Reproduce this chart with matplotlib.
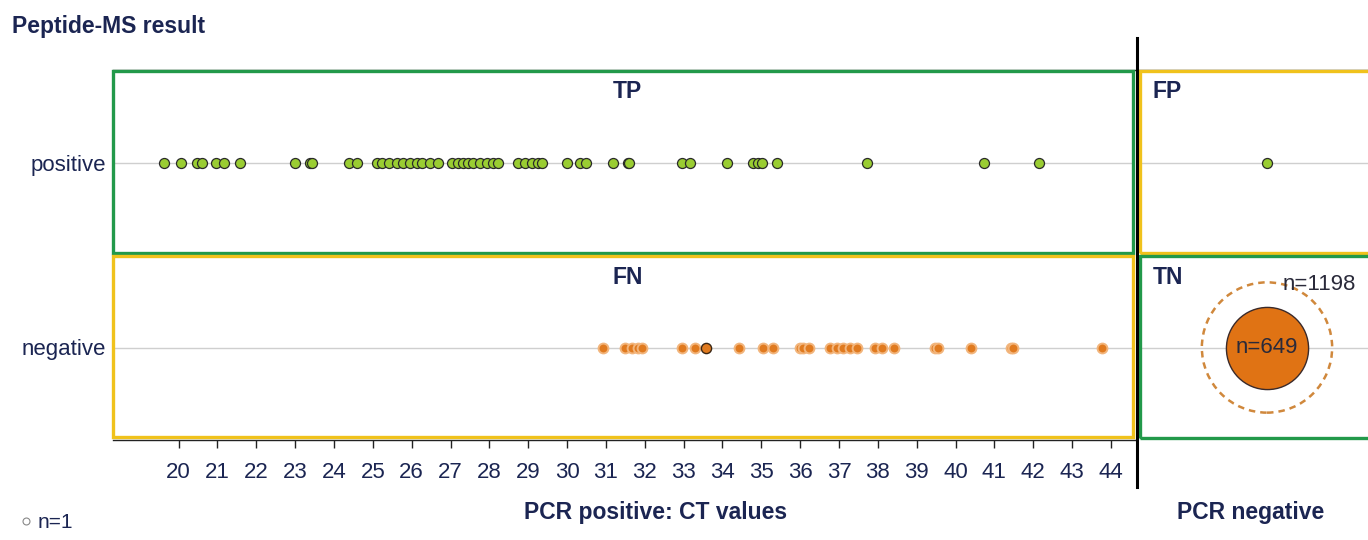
import numpy as np
import matplotlib
matplotlib.use("Agg")
import matplotlib.pyplot as plt
from matplotlib.patches import Rectangle
from matplotlib.lines import Line2D

plt.rcParams['font.family'] = ['Liberation Sans', 'DejaVu Sans']

# ---------------- data ----------------
rows = ["negative", "positive"]          # y categories
ct_ticks = list(range(20, 45))           # x tick values
tp_ct = [19.63, 20.05, 20.48, 20.59, 20.96, 21.17, 21.58, 23.00, 23.39, 23.43,
         24.39, 24.60, 25.11, 25.23, 25.42, 25.61, 25.78, 25.96, 26.13, 26.26,
         26.47, 26.67, 27.03, 27.20, 27.33, 27.46, 27.57, 27.76, 27.93, 28.10,
         28.23, 28.74, 28.92, 29.09, 29.26, 29.35, 29.99, 30.33, 30.49, 31.17,
         31.56, 31.60, 32.95, 33.16, 34.11, 34.79, 34.92, 35.03, 35.40, 37.71,
         40.74, 42.15]
fn_ct = [30.92, 31.49, 31.66, 31.83, 31.92, 32.95, 33.29, 34.43, 35.04,
         35.29, 35.99, 36.08, 36.23, 36.77, 36.94, 37.11, 37.28, 37.47, 37.93,
         38.10, 38.42, 39.47, 39.56, 40.41, 41.44, 41.48, 43.78]
fn_ct_marked = [33.58]
fp_count = 1
tn_count = 649
tn_total = 1198

NAVY = '#1b2552'
GREEN = '#22994a'
YELLOW = '#f0c21c'
TPC = '#9acd32'
FNC = '#e07a1f'

W, H = 1368, 540
fig = plt.figure(figsize=(W / 100, H / 100), dpi=100)
def fx(px): return px / W
def fy(py): return 1 - py / H

ax_top, ax_bot = 70, 440
axL = fig.add_axes([fx(113), fy(ax_bot), (1135 - 113) / W, (ax_bot - ax_top) / H])
axR = fig.add_axes([fx(1137), fy(ax_bot), (1397 - 1137) / W, (ax_bot - ax_top) / H])

ypos = {r: i for i, r in enumerate(rows)}

for ax in (axL, axR):
    ax.set_ylim(-0.5, 1.5)
    for s in ('left', 'right', 'bottom'):
        ax.spines[s].set_visible(False)
    ax.spines['top'].set_color('#222222')
    ax.spines['top'].set_linewidth(1.0)
    for r in rows:
        ax.axhline(ypos[r], color='#cfcfcf', lw=1.0, zorder=1)

axL.spines['bottom'].set_visible(True)
axL.spines['bottom'].set_color('#222222')
axL.spines['bottom'].set_linewidth(1.0)

# left panel: PCR positive
axL.set_xlim(18.31, 44.62)
axL.set_xticks(ct_ticks)
axL.set_xticklabels([str(t) for t in ct_ticks], fontsize=16, color=NAVY)
axL.tick_params(axis='x', direction='out', length=5.5, width=1, color='#222222', pad=10)
axL.set_yticks([ypos[r] for r in rows])
axL.set_yticklabels(rows, fontsize=16, color=NAVY)
axL.tick_params(axis='y', length=0, pad=5)

axL.scatter(tp_ct, [ypos["positive"]] * len(tp_ct), s=52, c=TPC,
            edgecolors='#2a2a2a', linewidths=0.9, zorder=3)
axL.scatter(fn_ct, [ypos["negative"]] * len(fn_ct), s=50, c=FNC,
            edgecolors='#f2b57c', linewidths=1.4, zorder=3)
axL.scatter(fn_ct_marked, [ypos["negative"]] * len(fn_ct_marked), s=54, c=FNC,
            edgecolors='#3a2614', linewidths=1.0, zorder=4)

boxkw = dict(transform=axL.transAxes, fill=False, lw=2.4, clip_on=False, zorder=5)
axL.add_patch(Rectangle((0.0, 0.505), 0.998, 0.492, ec=GREEN, **boxkw))
axL.add_patch(Rectangle((0.0, 0.008), 0.998, 0.489, ec=YELLOW, **boxkw))
axL.text(31.55, 1.385, "TP", fontsize=16.5, fontweight='bold', color=NAVY,
         ha='center', va='center')
axL.text(31.55, 0.38, "FN", fontsize=16.5, fontweight='bold', color=NAVY,
         ha='center', va='center')

# right panel: PCR negative
axR.set_xlim(0, 1)
axR.set_xticks([])
axR.set_yticks([])
axR.scatter([0.5] * fp_count, [ypos["positive"]] * fp_count, s=52, c=TPC,
            edgecolors='#2a2a2a', linewidths=0.9, zorder=3)
axR.scatter([0.5], [ypos["negative"]], s=3500, c='#e07314',
            edgecolors='#3a2a2a', linewidths=1.0, zorder=3)
axR.scatter([0.5], [ypos["negative"]], s=8800, facecolors='none',
            edgecolors='#d0883c', linewidths=1.8, linestyles=(0, (2.6, 2.0)), zorder=3)
axR.text(0.5, ypos["negative"], f"n={tn_count}", fontsize=16, color='#2a2a3a',
         ha='center', va='center', zorder=4)
axR.text(0.5615, 0.34, f"n={tn_total}", fontsize=16, color='#2a2a3a',
         ha='left', va='center', zorder=4)
boxkwR = dict(transform=axR.transAxes, fill=False, lw=2.4, clip_on=False, zorder=5)
axR.add_patch(Rectangle((0.0115, 0.505), 1.2, 0.492, ec=YELLOW, **boxkwR))
axR.add_patch(Rectangle((0.0115, 0.005), 1.2, 0.492, ec=GREEN, **boxkwR))
axR.text(0.06, 1.385, "FP", fontsize=16.5, fontweight='bold', color=NAVY,
         ha='left', va='center')
axR.text(0.06, 0.38, "TN", fontsize=16.5, fontweight='bold', color=NAVY,
         ha='left', va='center')

# divider
fig.add_artist(Line2D([fx(1137)] * 2, [fy(38), fy(487)], transform=fig.transFigure,
                      color='black', lw=2.2))

# figure texts
fig.text(fx(12), fy(27), "Peptide-MS result", fontsize=16.5, fontweight='bold',
         color=NAVY, ha='left', va='center')
fig.text(fx(656), fy(513), "PCR positive: CT values", fontsize=16.5, fontweight='bold',
         color=NAVY, ha='center', va='center')
fig.text(fx(1251), fy(513), "PCR negative", fontsize=16.5, fontweight='bold',
         color=NAVY, ha='center', va='center')
fig.add_artist(Line2D([fx(26)], [fy(521)], transform=fig.transFigure, marker='o',
                      markersize=5, markerfacecolor='white', markeredgecolor='#888888',
                      markeredgewidth=0.8, linestyle='none'))
fig.text(fx(38), fy(522), "n=1", fontsize=15, color=NAVY, ha='left', va='center')

fig.savefig("out.png", dpi=100)
